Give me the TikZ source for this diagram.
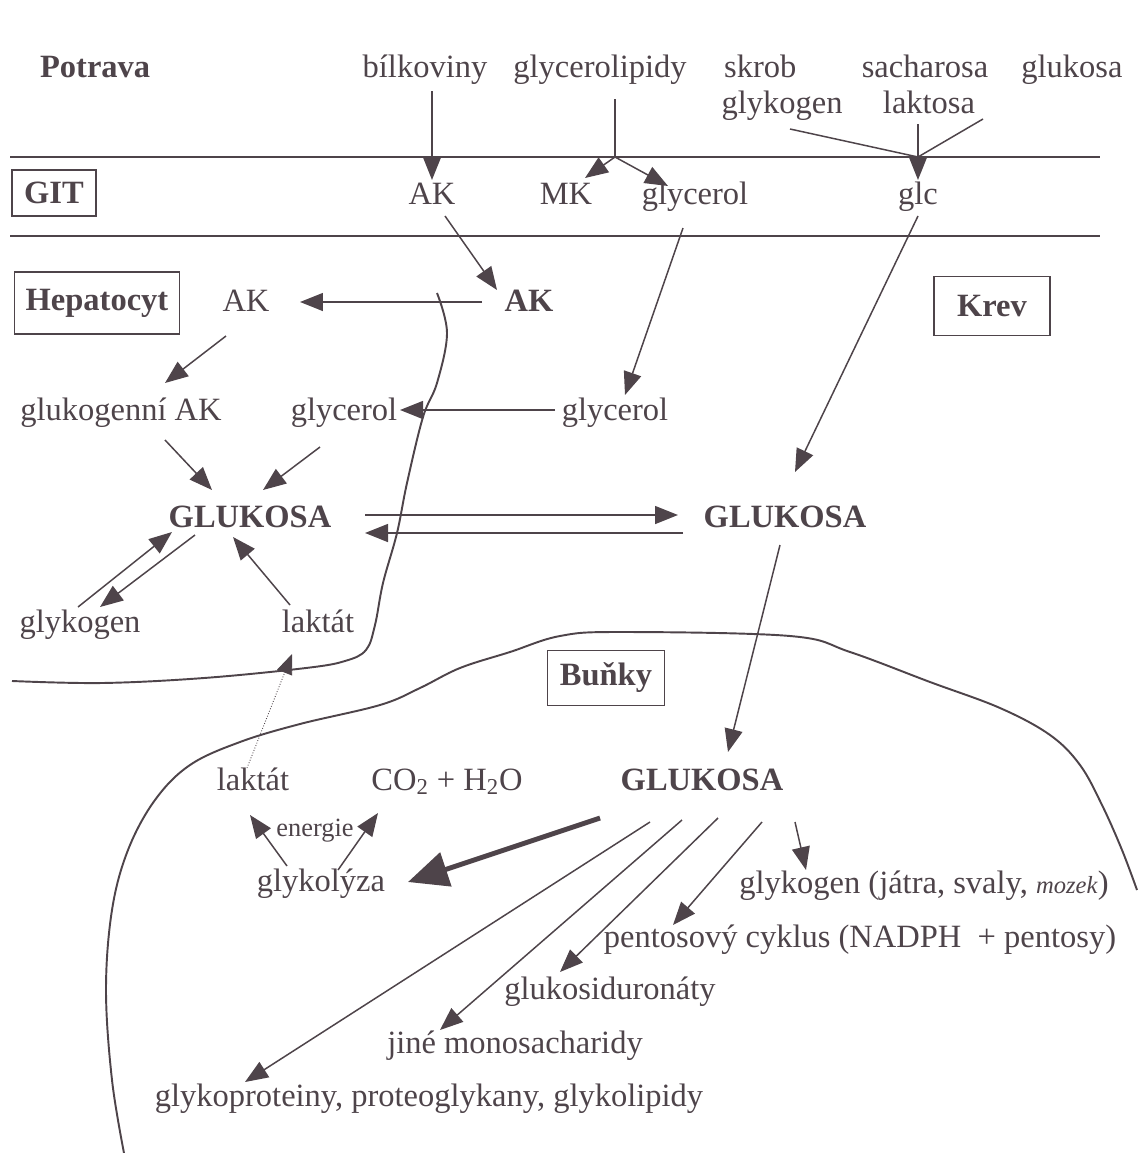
\documentclass[tikz,border=0pt]{standalone}
\usepackage{fontspec}
\setmainfont{Liberation Serif}
\usetikzlibrary{arrows.meta,calc}
\definecolor{ink}{RGB}{78,68,74}
\tikzset{
  popis/.style={anchor=base, inner sep=1pt, text=ink, font=\fontsize{18.5}{22}\selectfont},
  tucne/.style={popis, font=\fontsize{18.5}{22}\selectfont\bfseries},
  ramecek/.style={draw=ink, line width=1pt, text=ink, font=\fontsize{18.5}{22}\selectfont\bfseries},
  sip/.style={draw=ink, line width=0.85pt, -{Triangle[length=0.46cm,width=0.36cm]}},
  membrana/.style={draw=ink, line width=1.1pt},
}
\begin{document}
\begin{tikzpicture}[x=0.02cm, y=-0.02cm]
  \useasboundingbox (0,0) rectangle (1137,1153);

  % Potrava
  \node[tucne, anchor=base west] (potrava) at (38,77) {Potrava};
  \node[popis] (bilk) at (425,77) {bílkoviny};
  \node[popis] (glyl) at (600,77) {glycerolipidy};
  \node[popis, anchor=base west] (skrob) at (722,77) {skrob};
  \node[popis] (sach) at (925,77) {sacharosa};
  \node[popis] (gluk) at (1072,77) {glukosa};
  \node[popis] (glyk) at (782,113) {glykogen};
  \node[popis] (lakt) at (929,113) {laktosa};

  % GIT
  \draw[ink, line width=1pt] (10,157) -- (1100,157);
  \draw[ink, line width=1pt] (10,236) -- (1100,236);
  \node[ramecek, minimum width=1.68cm, minimum height=0.92cm] (git) at (54,193) {GIT};
  \node[popis] (akgit) at (432,204) {AK};
  \node[popis] (mk) at (566,204) {MK};
  \node[popis] (glygit) at (695,204) {glycerol};
  \node[popis] (glc) at (918,204) {glc};
  \coordinate (split) at (615,157);
  \coordinate (join) at (918,157);

  \draw[sip] ($(bilk.base)+(7,14)$) -- ($(akgit.base)+(0,-24)$);
  \draw[draw=ink, line width=0.85pt] ($(glyl.base)+(15,22)$) -- (split);
  \draw[sip] (split) -- ($(mk.base)+(19,-26)$);
  \draw[sip] (split) -- ($(glygit.base)+(-27,-18)$);
  \draw[draw=ink, line width=0.85pt] ($(glyk.base)+(8,16)$) -- (join);
  \draw[draw=ink, line width=0.85pt] ($(gluk.base)+(-89,42)$) -- (join);
  \draw[sip] ($(lakt.base)+(-11,11)$) -- ($(glc.base)+(0,-24)$);

  % Krev a hepatocyt
  \node[ramecek, minimum width=3.3cm, minimum height=1.24cm] (hep) at (97,303) {Hepatocyt};
  \node[ramecek, minimum width=2.32cm, minimum height=1.18cm] (krev) at (992,306) {Krev};
  \node[popis] (akhep) at (246,311) {AK};
  \node[tucne] (akkrev) at (529,311) {AK};
  \node[popis] (glukogenni) at (121,420) {glukogenní AK};
  \node[popis] (glyhep) at (344,420) {glycerol};
  \node[popis] (glykrev) at (615,420) {glycerol};
  \node[tucne] (gluhep) at (250,527) {GLUKOSA};
  \node[tucne] (glukrev) at (785,527) {GLUKOSA};
  \node[popis] (glykhep) at (80,632) {glykogen};
  \node[popis] (lakhep) at (318,632) {laktát};

  \draw[sip] ($(akgit.base)+(13,12)$) -- ($(akkrev.base)+(-32,-21)$);
  \draw[sip] ($(akkrev.base)+(-47,-9)$) -- ($(akhep.base)+(54,-9)$);
  \draw[sip] ($(glygit.base)+(-12,24)$) -- ($(glykrev.base)+(10,-25)$);
  \draw[sip] ($(glc.base)+(0,12)$) -- ($(glukrev.base)+(10,-55)$);
  \draw[sip] ($(akhep.base)+(-20,25)$) -- ($(glukogenni.base)+(44,-37)$);
  \draw[sip] ($(glykrev.base)+(-60,-10)$) -- ($(glyhep.base)+(56,-10)$);
  \draw[sip] ($(glukogenni.base)+(44,20)$) -- ($(gluhep.base)+(-38,-37)$);
  \draw[sip] ($(glyhep.base)+(-24,27)$) -- ($(gluhep.base)+(13,-37)$);
  \draw[sip] ($(gluhep.base)+(115,-12)$) -- ($(glukrev.base)+(-107,-12)$);
  \draw[sip] ($(glukrev.base)+(-102,6)$) -- ($(gluhep.base)+(115,6)$);
  \draw[sip] ($(glykhep.base)+(-2,-25)$) -- ($(gluhep.base)+(-78,5)$);
  \draw[sip] ($(gluhep.base)+(-55,8)$) -- ($(glykhep.base)+(20,-25)$);
  \draw[sip] ($(lakhep.base)+(-28,-27)$) -- ($(gluhep.base)+(-17,10)$);

  % membrana hepatocytu
  \draw[membrana] plot[smooth, tension=0.6] coordinates {(437,293) (447,333) (437,383)
    (423,417) (407,483) (397,533) (383,583) (375,625) (366,650) (345,661) (306,668)
    (204,678) (102,683) (12,681)};

  % Bunky
  \draw[membrana] plot[smooth, tension=0.6] coordinates {(124,1153) (112,1080) (106,990)
    (112,910) (128,850) (155,800) (190,765) (240,742) (300,724) (380,705) (420,688)
    (460,668) (510,652) (560,636) (620,632) (790,636) (850,652) (930,682) (1000,708)
    (1050,735) (1080,765) (1102,805) (1122,850) (1137,890)};
  \node[ramecek, minimum width=2.34cm, minimum height=1.1cm] (bunky) at (606,678) {Buňky};
  \node[popis] (lakcell) at (253,790) {laktát};
  \node[popis] (co2) at (447,790) {CO\textsubscript{2} + H\textsubscript{2}O};
  \node[tucne] (glucell) at (702,790) {GLUKOSA};
  \node[popis, font=\fontsize{15}{18}\selectfont] (energie) at (315,836) {energie};
  \node[popis] (glykolyza) at (321,891) {glykolýza};
  \node[popis] (glyk2) at (924,893) {glykogen (játra, svaly, \textit{\fontsize{14}{16}\selectfont mozek})};
  \node[popis] (pento) at (860,947) {pentosový cyklus (NADPH\ \ + pentosy)};
  \node[popis] (uron) at (610,999) {glukosiduronáty};
  \node[popis] (jine) at (515,1053) {jiné monosacharidy};
  \node[popis] (glykop) at (429,1106) {glykoproteiny, proteoglykany, glykolipidy};

  \draw[sip] ($(glukrev.base)+(-5,18)$) -- ($(glucell.base)+(26,-38)$);
  \draw[draw=ink, line width=0.5pt, densely dotted, -{Triangle[length=0.4cm,width=0.32cm]}]
    ($(lakcell.base)+(-6,-22)$) -- ($(lakhep.base)+(-26,22)$);
  \draw[sip] ($(glykolyza.base)+(-34,-25)$) -- ($(lakcell.base)+(-3,25)$);
  \draw[sip] ($(glykolyza.base)+(17,-21)$) -- ($(co2.base)+(-69,23)$);
  \draw[draw=ink, line width=2.8pt, -{Triangle[length=0.8cm,width=0.7cm]}]
    ($(glucell.base)+(-102,28)$) -- ($(glykolyza.base)+(87,-9)$);
  \draw[sip] ($(glucell.base)+(-52,32)$) -- ($(glykop.base)+(-184,-24)$);
  \draw[sip] ($(glucell.base)+(-20,30)$) -- ($(jine.base)+(-75,-23)$);
  \draw[sip] ($(glucell.base)+(16,28)$) -- ($(uron.base)+(-50,-27)$);
  \draw[sip] ($(glucell.base)+(60,32)$) -- ($(pento.base)+(-187,-22)$);
  \draw[sip] ($(glucell.base)+(93,32)$) -- ($(glyk2.base)+(-118,-23)$);
\end{tikzpicture}
\end{document}
